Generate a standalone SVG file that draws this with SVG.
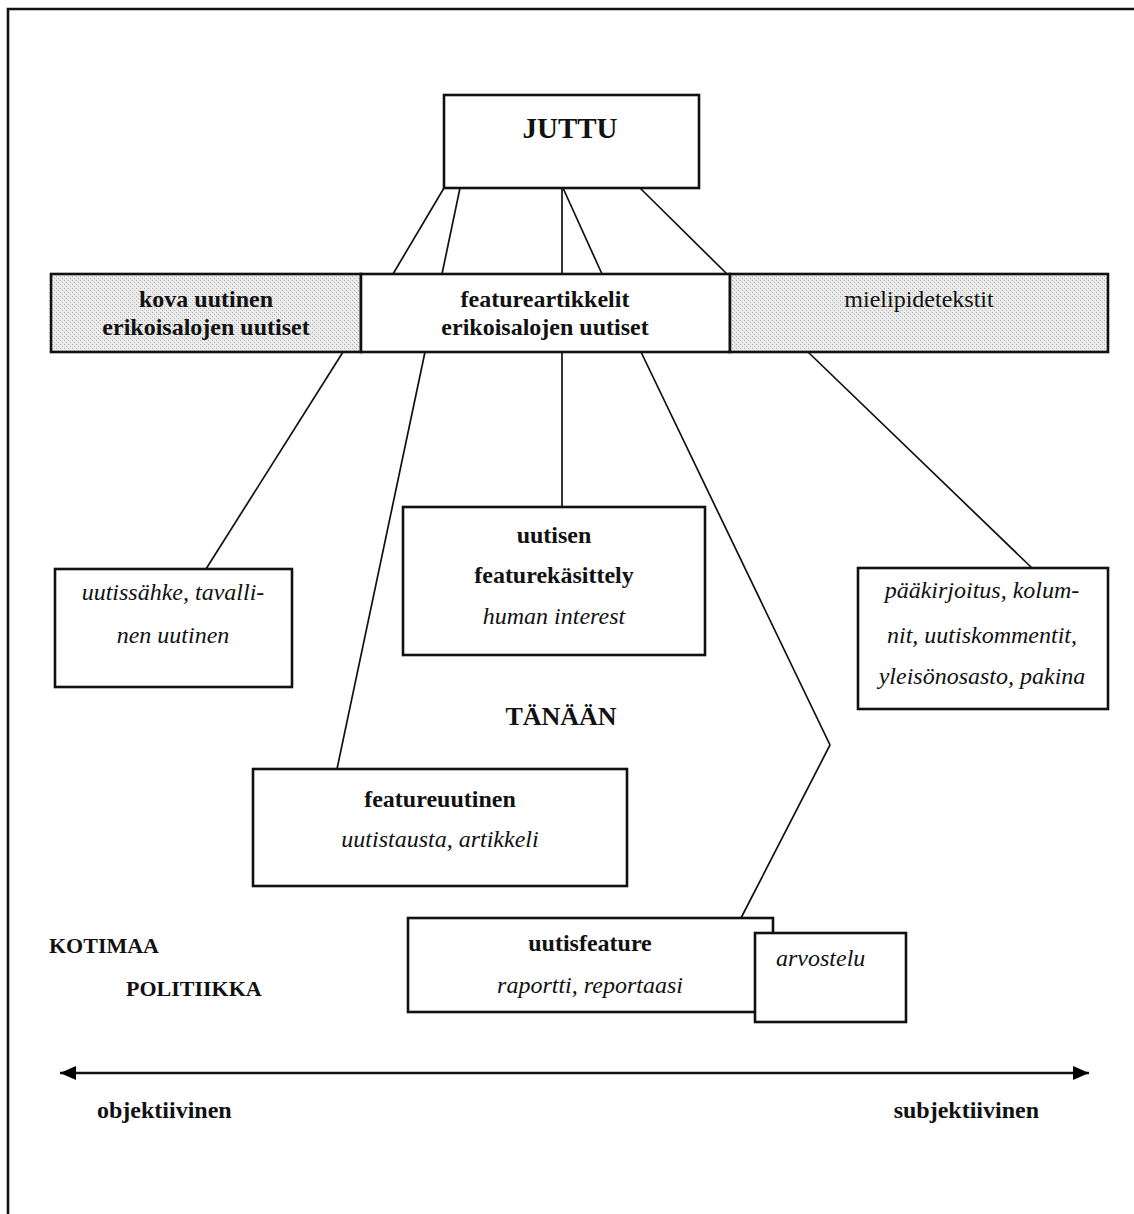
<svg xmlns="http://www.w3.org/2000/svg" width="1134" height="1214" viewBox="0 0 1134 1214">
  <defs>
    <pattern id="dots" width="4" height="4" patternUnits="userSpaceOnUse">
      <rect width="4" height="4" fill="#e8e8e8"/>
      <rect x="0" y="0" width="1" height="1" fill="#b0b0b0"/>
      <rect x="2" y="2" width="1" height="1" fill="#b0b0b0"/>
      <rect x="1" y="3" width="1" height="1" fill="#ffffff"/>
      <rect x="3" y="1" width="1" height="1" fill="#ffffff"/>
    </pattern>
    <marker id="head" viewBox="0 0 16 14" refX="16" refY="7" markerWidth="16" markerHeight="14" markerUnits="userSpaceOnUse" orient="auto-start-reverse">
      <path d="M0,0 L16,7 L0,14 Z" fill="#000"/>
    </marker>
  </defs>
  <style>
    text { font-family: "Liberation Serif", "Times New Roman", serif; font-size: 24px; fill: #111; }
    .b { font-weight: bold; }
    .i { font-style: italic; }
    .c { text-anchor: middle; }
    .box { fill: #fff; stroke: #111; stroke-width: 2.6; }
    .hatch { fill: url(#dots); stroke: #111; stroke-width: 2.6; }
    .link { fill: none; stroke: #111; stroke-width: 1.7; }
  </style>

  <rect width="1134" height="1214" fill="#fff"/>

  <!-- page frame (top and left edges) -->
  <path d="M8,1214 V9 H1134" fill="none" stroke="#111" stroke-width="2.6"/>

  <!-- connectors -->
  <g id="connectors">
    <line class="link" x1="444" y1="188" x2="393" y2="274"/>
    <line class="link" x1="460" y1="188" x2="442" y2="274"/>
    <line class="link" x1="562" y1="188" x2="562" y2="274"/>
    <line class="link" x1="563" y1="188" x2="602" y2="274"/>
    <line class="link" x1="640" y1="188" x2="727" y2="274"/>
    <line class="link" x1="343" y1="352" x2="206" y2="569"/>
    <line class="link" x1="425" y1="352" x2="337" y2="769"/>
    <line class="link" x1="562" y1="352" x2="562" y2="507"/>
    <polyline class="link" points="641,352 830,745 741,918"/>
    <line class="link" x1="808" y1="352" x2="1032" y2="568"/>
    <line x1="60" y1="1073" x2="1089" y2="1073" stroke="#111" stroke-width="2.4" marker-start="url(#head)" marker-end="url(#head)"/>
  </g>

  <g id="juttu">
    <rect class="box" x="444" y="95" width="255" height="93"/>
    <text class="b c" x="570" y="138" style="font-size:29px">JUTTU</text>
  </g>

  <g id="kova-uutinen">
    <rect class="hatch" x="51" y="274" width="310" height="78"/>
    <text class="b c" x="206" y="307">kova uutinen</text>
    <text class="b c" x="206" y="335">erikoisalojen uutiset</text>
  </g>

  <g id="featureartikkelit">
    <rect class="box" x="361" y="274" width="369" height="78"/>
    <text class="b c" x="545" y="307">featureartikkelit</text>
    <text class="b c" x="545" y="335">erikoisalojen uutiset</text>
  </g>

  <g id="mielipidetekstit">
    <rect class="hatch" x="730" y="274" width="378" height="78"/>
    <text class="c" x="919" y="307">mielipidetekstit</text>
  </g>

  <g id="uutissahke">
    <rect class="box" x="55" y="569" width="237" height="118"/>
    <text class="i c" x="173" y="600">uutissähke, tavalli-</text>
    <text class="i c" x="173" y="643">nen uutinen</text>
  </g>

  <g id="uutisen-featurekasittely">
    <rect class="box" x="403" y="507" width="302" height="148"/>
    <text class="b c" x="554" y="543">uutisen</text>
    <text class="b c" x="554" y="583">featurekäsittely</text>
    <text class="i c" x="554" y="624">human interest</text>
  </g>

  <g id="paakirjoitus">
    <rect class="box" x="858" y="568" width="250" height="141"/>
    <text class="i c" x="982" y="598">pääkirjoitus, kolum-</text>
    <text class="i c" x="982" y="643">nit, uutiskommentit,</text>
    <text class="i c" x="982" y="684">yleisönosasto, pakina</text>
  </g>

  <g id="tanaan">
    <text class="b c" x="561" y="725" style="font-size:26px">TÄNÄÄN</text>
  </g>

  <g id="featureuutinen">
    <rect class="box" x="253" y="769" width="374" height="117"/>
    <text class="b c" x="440" y="807">featureuutinen</text>
    <text class="i c" x="440" y="847">uutistausta, artikkeli</text>
  </g>

  <g id="uutisfeature">
    <rect class="box" x="408" y="918" width="365" height="94"/>
    <text class="b c" x="590" y="951">uutisfeature</text>
    <text class="i c" x="590" y="993">raportti, reportaasi</text>
  </g>

  <g id="arvostelu">
    <rect class="box" x="755" y="933" width="151" height="89"/>
    <text class="i" x="776" y="966">arvostelu</text>
  </g>

  <g id="kotimaa-politiikka">
    <text class="b" x="49" y="953" style="font-size:22px">KOTIMAA</text>
    <text class="b" x="126" y="996" style="font-size:22px">POLITIIKKA</text>
  </g>

  <g id="scale-labels">
    <text class="b" x="97" y="1118">objektiivinen</text>
    <text class="b" x="1039" y="1118" style="text-anchor:end">subjektiivinen</text>
  </g>
</svg>
